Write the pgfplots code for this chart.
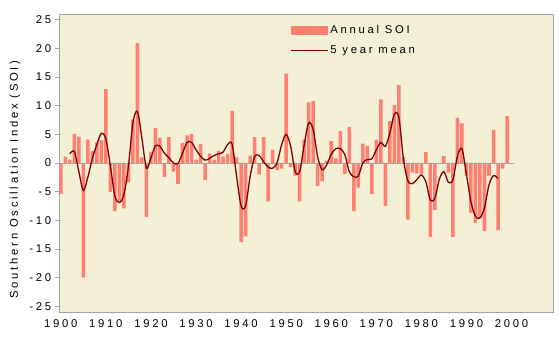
\documentclass[border=0pt]{standalone}
\usepackage{fontspec}
\setmainfont{Liberation Sans}[LetterSpace=24]
\usepackage{pgfplots}
\usepackage{pgfplotstable}
\pgfplotsset{compat=1.18}
\definecolor{bg}{RGB}{243,240,214}
\definecolor{barc}{RGB}{255,128,112}
\definecolor{meanc}{RGB}{128,0,0}
\definecolor{axc}{RGB}{165,165,165}

\pgfplotstableread{
year soi
1900 -5.4
1901 1.1
1902 0.6
1903 5.1
1904 4.6
1905 -20.0
1906 4.1
1907 2.1
1908 3.6
1909 4.0
1910 12.9
1911 -5.1
1912 -8.4
1913 -6.6
1914 -7.9
1915 -3.4
1916 7.6
1917 20.9
1918 1.0
1919 -9.4
1920 2.0
1921 6.1
1922 4.4
1923 -2.4
1924 4.5
1925 -1.5
1926 -3.7
1927 3.5
1928 4.8
1929 5.1
1930 0.6
1931 3.3
1932 -3.0
1933 1.7
1934 0.6
1935 2.1
1936 1.1
1937 1.6
1938 9.1
1939 1.0
1940 -13.8
1941 -12.8
1942 1.3
1943 4.5
1944 -2.0
1945 4.5
1946 -6.7
1947 2.3
1948 -1.2
1949 -1.0
1950 15.6
1951 -0.7
1952 -2.2
1953 -6.7
1954 4.1
1955 10.6
1956 10.8
1957 -4.0
1958 -3.2
1959 0.4
1960 3.8
1961 0.8
1962 5.6
1963 -1.9
1964 6.3
1965 -8.4
1966 -4.3
1967 3.4
1968 3.0
1969 -5.4
1970 4.1
1971 11.1
1972 -7.5
1973 7.3
1974 10.1
1975 13.6
1976 1.0
1977 -9.9
1978 -1.7
1979 -1.8
1980 -2.0
1981 1.9
1982 -12.9
1983 -8.2
1984 -0.2
1985 1.2
1986 -1.7
1987 -12.9
1988 7.9
1989 6.9
1990 -2.2
1991 -8.7
1992 -10.5
1993 -9.6
1994 -11.9
1995 -2.2
1996 5.8
1997 -11.7
1998 -1.0
1999 8.2
}\annual

\pgfplotstableread{
year mean
1902 1.6
1903 2.0
1904 -1.5
1905 -4.8
1906 -2.5
1907 0.8
1908 3.2
1909 5.2
1910 4.2
1911 -0.5
1912 -5.8
1913 -6.9
1914 -5.5
1915 -0.6
1916 7.0
1917 9.0
1918 4.3
1919 -0.9
1920 0.9
1921 3.0
1922 2.9
1923 1.7
1924 0.9
1925 0.0
1926 -0.1
1927 1.7
1928 3.6
1929 3.6
1930 2.3
1931 1.2
1932 0.5
1933 0.8
1934 1.3
1935 1.6
1936 1.9
1937 3.2
1938 3.3
1939 -2.3
1940 -7.5
1941 -7.5
1942 -2.4
1943 1.1
1944 1.3
1945 0.2
1946 -0.7
1947 -0.9
1948 0.1
1949 3.2
1950 5.0
1951 2.9
1952 -1.5
1953 -1.5
1954 3.2
1955 7.0
1956 5.8
1957 1.0
1958 -1.2
1959 -0.3
1960 1.5
1961 2.5
1962 2.5
1963 1.5
1964 -1.5
1965 -2.4
1966 -2.3
1967 0.0
1968 0.6
1969 0.7
1970 2.3
1971 3.6
1972 2.9
1973 5.2
1974 8.5
1975 8.0
1976 0.8
1977 -3.1
1978 -3.6
1979 -2.9
1980 -2.1
1981 -3.3
1982 -6.5
1983 -6.1
1984 -2.8
1985 -1.5
1986 -3.4
1987 -2.9
1988 1.2
1989 2.5
1990 -2.0
1991 -6.8
1992 -9.3
1993 -9.6
1994 -7.8
1995 -3.8
1996 -2.2
1997 -2.7
}\fivemean

\begin{document}
\fontsize{11bp}{13bp}\selectfont
\begin{tikzpicture}
\path (0,0) rectangle (559bp,341bp);
\begin{axis}[
  at={(59bp,29bp)}, anchor=south west,
  scale only axis, width=494bp, height=298bp,
  xmin=1899.6, xmax=2009.2, ymin=-26, ymax=26,
  axis background/.style={fill=bg},
  axis line style={axc},
  xtick={1900,1910,1920,1930,1940,1950,1960,1970,1980,1990,2000},
  xticklabels={1900,1910,1920,1930,1940,1950,1960,1970,1980,1990,2000},
  ytick={-25,-20,-15,-10,-5,0,5,10,15,20,25},
  yticklabels={-25,-20,-15,-10,-5,0,5,10,15,20,25},
  tick align=outside,
  ytick pos=left,
  xtick pos=bottom,
  x tick style={draw=none},
  y tick style={axc, line width=0.6bp},
  major tick length=4bp,
  tick label style={font=\fontsize{11.3bp}{13bp}\selectfont},
  ylabel={Southern Oscillation Index (SOI)},
  ylabel style={font=\fontsize{11.3bp}{13bp}\selectfont, at={(axis description cs:-0.089,0.445)}, anchor=center, rotate=0},
  legend style={at={(axis description cs:0.4676,0.968)}, anchor=north west, draw=none, fill=none,
    font=\fontsize{11.3bp}{13bp}\selectfont, row sep=6.5bp, inner sep=0pt,
    nodes={inner sep=1.8bp}},
  legend cell align=left,
]
\addplot[ybar, bar width=0.78, bar shift=0pt, fill=barc, draw=none,
  legend image code/.code={\fill[barc] (0bp,-4.5bp) rectangle (37bp,4.5bp);}]
  table[x=year, y=soi] {\annual};
\addlegendentry{Annual SOI}
\addplot[axc, line width=0.6bp, forget plot] coordinates {(1899.6,0) (2000.6,0)};
\addplot[meanc, line width=1.3bp, smooth, tension=0.5, mark=none,
  legend image code/.code={\draw[meanc, line width=1.3bp] (0bp,0bp) -- (37bp,0bp);}]
  table[x=year, y=mean] {\fivemean};
\addlegendentry{5 year mean}
\end{axis}
\end{tikzpicture}
\end{document}
